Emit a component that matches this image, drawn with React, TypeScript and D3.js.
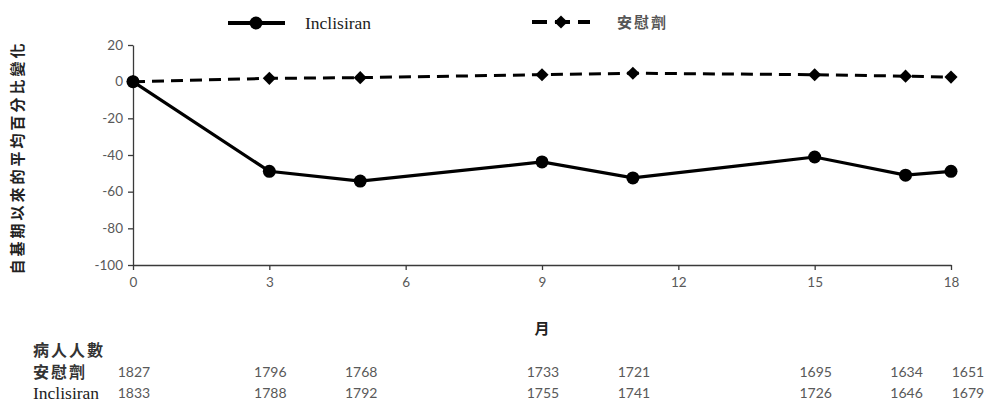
import React, { useEffect, useRef } from 'react';
import * as d3 from 'd3';

// months at which the mean % change was measured
const months = [0, 3, 5, 9, 11, 15, 17, 18];
const inclisiran = [0, -48.9, -54.2, -43.8, -52.5, -41.1, -51.0, -48.9];
const placebo = [0, 1.8, 2.2, 3.8, 4.6, 3.8, 3.0, 2.5];

const xTicks = [0, 3, 6, 9, 12, 15, 18];
const yTicks = [20, 0, -20, -40, -60, -80, -100];

// patients at risk
const placeboN = [1827, 1796, 1768, 1733, 1721, 1695, 1634, 1651];
const inclisiranN = [1833, 1788, 1792, 1755, 1741, 1726, 1646, 1679];

const W = 991;
const H = 403;

const App: React.FC = () => {
  const svgRef = useRef<SVGSVGElement>(null);

  useEffect(() => {
    document.body.style.margin = '0';
    if (!svgRef.current) return;
    const svg = d3.select(svgRef.current);
    svg.selectAll('*').remove();

    const x = d3.scaleLinear().domain([0, 18]).range([133, 951]);
    const y = d3.scaleLinear().domain([-100, 20]).range([265, 45]);

    const axisColor = '#3a3a3a';
    const tickText = '#595959';
    const num = 'Lato, "Open Sans", sans-serif';
    const serif = '"Liberation Serif", "DejaVu Serif", serif';
    const cjk = '"Noto Sans CJK TC", "Noto Sans CJK SC", sans-serif';
    const plain = (d: d3.NumberValue) => String(d); // keep hyphen-minus like the original

    // y axis
    const yAxis = svg.append('g')
      .attr('transform', `translate(${x(0)},0)`)
      .call(d3.axisLeft(y).tickValues(yTicks).tickFormat(plain).tickSize(5).tickSizeOuter(0));
    yAxis.select('.domain').attr('stroke', axisColor).attr('stroke-width', 1.3);
    yAxis.selectAll('line').attr('stroke', axisColor).attr('stroke-width', 1.3);
    yAxis.selectAll('text')
      .attr('fill', tickText)
      .attr('font-family', num)
      .attr('font-size', 13.5)
      .attr('x', -10);

    // x axis
    const xAxis = svg.append('g')
      .attr('transform', `translate(0,${y(-100)})`)
      .call(d3.axisBottom(x).tickValues(xTicks).tickFormat(plain).tickSize(5).tickSizeOuter(0));
    xAxis.select('.domain').attr('stroke', axisColor).attr('stroke-width', 1.3);
    xAxis.selectAll('line').attr('stroke', axisColor).attr('stroke-width', 1.3);
    xAxis.selectAll('text')
      .attr('fill', tickText)
      .attr('font-family', num)
      .attr('font-size', 13.5)
      .attr('y', 12);

    const incData = months.map((m, i) => ({ m, v: inclisiran[i] }));
    const plaData = months.map((m, i) => ({ m, v: placebo[i] }));

    const line = d3.line<{ m: number; v: number }>()
      .x(d => x(d.m))
      .y(d => y(d.v));

    // placebo dashed line + diamonds
    svg.append('path')
      .datum(plaData)
      .attr('fill', 'none')
      .attr('stroke', '#000')
      .attr('stroke-width', 3)
      .attr('stroke-dasharray', '12,7')
      .attr('d', line);

    const diamond = d3.symbol().type(d3.symbolDiamond2).size(110);
    svg.append('g')
      .selectAll('path')
      .data(plaData)
      .join('path')
      .attr('transform', d => `translate(${x(d.m)},${y(d.v)})`)
      .attr('d', diamond)
      .attr('fill', '#000');

    // inclisiran solid line + circles
    svg.append('path')
      .datum(incData)
      .attr('fill', 'none')
      .attr('stroke', '#000')
      .attr('stroke-width', 3.2)
      .attr('d', line);

    svg.append('g')
      .selectAll('circle')
      .data(incData)
      .join('circle')
      .attr('cx', d => x(d.m))
      .attr('cy', d => y(d.v))
      .attr('r', 6.5)
      .attr('fill', '#000');

    // legend
    const lg = svg.append('g');
    lg.append('line')
      .attr('x1', 228).attr('x2', 285).attr('y1', 23).attr('y2', 23)
      .attr('stroke', '#000').attr('stroke-width', 4);
    lg.append('circle').attr('cx', 256).attr('cy', 23).attr('r', 6.5).attr('fill', '#000');
    lg.append('text')
      .attr('x', 305).attr('y', 29)
      .attr('font-family', serif).attr('font-size', 17.5).attr('fill', '#222')
      .text('Inclisiran');

    lg.append('line')
      .attr('x1', 532).attr('x2', 590).attr('y1', 22).attr('y2', 22)
      .attr('stroke', '#000').attr('stroke-width', 4)
      .attr('stroke-dasharray', '15,8');
    lg.append('path')
      .attr('transform', 'translate(561,22)')
      .attr('d', diamond)
      .attr('fill', '#000');
    lg.append('text')
      .attr('x', 617).attr('y', 28)
      .attr('font-family', cjk).attr('font-size', 15).attr('font-weight', 'bold')
      .attr('letter-spacing', 2).attr('fill', '#555')
      .text('安慰劑');

    // y axis title
    svg.append('text')
      .attr('transform', `translate(23,${(40 + 275) / 2}) rotate(-90)`)
      .attr('text-anchor', 'middle')
      .attr('font-family', cjk).attr('font-size', 15).attr('font-weight', 'bold')
      .attr('letter-spacing', 3).attr('fill', '#222')
      .text('自基期以來的平均百分比變化');

    // x axis title
    svg.append('text')
      .attr('x', x(9)).attr('y', 334)
      .attr('text-anchor', 'middle')
      .attr('font-family', cjk).attr('font-size', 15).attr('font-weight', 'bold')
      .attr('fill', '#222')
      .text('月');

    // patients at risk table
    const tbl = svg.append('g');
    tbl.append('text')
      .attr('x', 33).attr('y', 356)
      .attr('font-family', cjk).attr('font-size', 16).attr('font-weight', 'bold')
      .attr('letter-spacing', 2).attr('fill', '#333')
      .text('病人人數');
    tbl.append('text')
      .attr('x', 33).attr('y', 378)
      .attr('font-family', cjk).attr('font-size', 16).attr('font-weight', 'bold')
      .attr('letter-spacing', 2).attr('fill', '#333')
      .text('安慰劑');
    tbl.append('text')
      .attr('x', 33).attr('y', 399)
      .attr('font-family', serif).attr('font-size', 17.5).attr('fill', '#222')
      .text('Inclisiran');

    const lastShift = (i: number) => (i === months.length - 1 ? 17 : 1);
    [placeboN, inclisiranN].forEach((row, r) => {
      tbl.append('g')
        .selectAll('text')
        .data(row)
        .join('text')
        .attr('x', (_, i) => x(months[i]) + lastShift(i))
        .attr('y', r === 0 ? 377 : 398)
        .attr('text-anchor', 'middle')
        .attr('font-family', num).attr('font-size', 14)
        .attr('fill', tickText)
        .text(d => String(d));
    });
  }, []);

  return <svg ref={svgRef} width={W} height={H} style={{ display: 'block', background: '#fff' }} />;
};

export default App;
